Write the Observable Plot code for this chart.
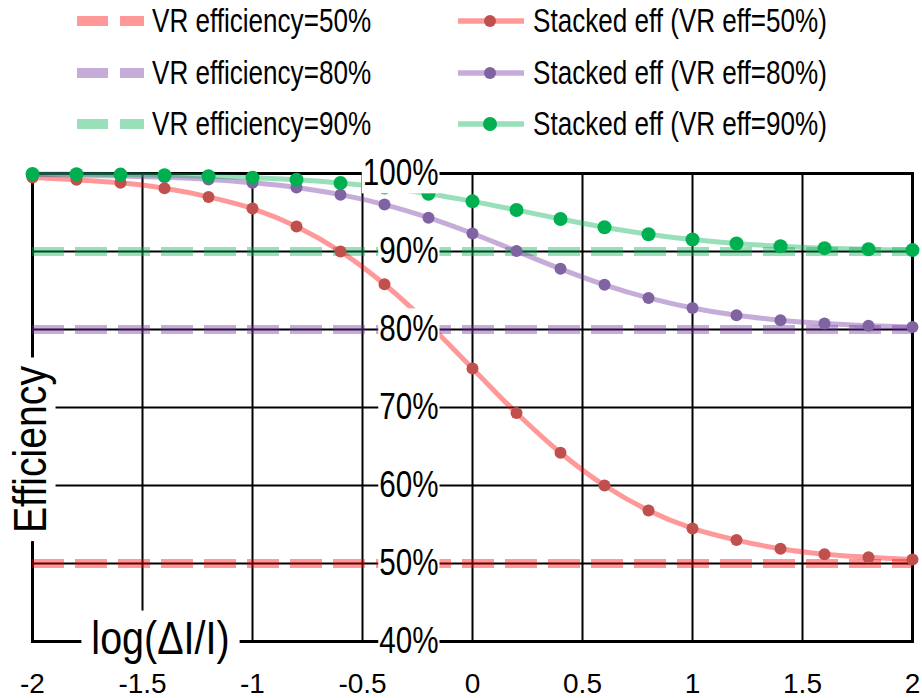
<!DOCTYPE html>
<html><head><meta charset="utf-8">
<script src="https://cdn.jsdelivr.net/npm/d3@7"></script>
<script src="https://cdn.jsdelivr.net/npm/@observablehq/plot@0.6"></script>
<style>
html,body{margin:0;padding:0;background:#fff;overflow:hidden;width:922px;height:698px;}
#legend{position:relative;width:922px;height:150px;font-family:'Liberation Sans',Arial,sans-serif;font-size:33px;color:#000;}
.item{position:absolute;height:52px;display:flex;align-items:center;white-space:nowrap;}
.item svg{display:block;flex:none;}
.item span{display:inline-block;transform:scaleX(0.79);transform-origin:0 50%;}
#chart svg{display:block;}
</style></head><body>
<div id="legend"></div>
<div id="chart"></div>
<script>
// ---- data ----
const xValues = [-2, -1.8, -1.6, -1.4, -1.2, -1, -0.8, -0.6, -0.4, -0.2, 0, 0.2, 0.4, 0.6, 0.8, 1, 1.2, 1.4, 1.6, 1.8, 2];
const stacked50 = [99.5, 99.2, 98.8, 98.1, 97.0, 95.5, 93.2, 90.0, 85.8, 80.7, 75.0, 69.3, 64.2, 60.0, 56.8, 54.5, 53.0, 51.9, 51.2, 50.8, 50.5];
const stacked80 = [99.88, 99.80, 99.69, 99.51, 99.24, 98.82, 98.20, 97.29, 96.02, 94.34, 92.31, 90.05, 87.78, 85.73, 84.05, 82.76, 81.82, 81.20, 80.77, 80.49, 80.31];
const stacked90 = [99.94, 99.91, 99.86, 99.78, 99.66, 99.47, 99.19, 98.78, 98.19, 97.40, 96.43, 95.32, 94.17, 93.11, 92.22, 91.53, 91.02, 90.67, 90.43, 90.28, 90.18];
const vrLevels = [50, 80, 90];
const vrNames = ["VR efficiency=50%", "VR efficiency=80%", "VR efficiency=90%"];
const stackedNames = ["Stacked eff (VR eff=50%)", "Stacked eff (VR eff=80%)", "Stacked eff (VR eff=90%)"];
const xTicks = [-2, -1.5, -1, -0.5, 0, 0.5, 1, 1.5, 2];
const xTickLabels = ["-2", "-1.5", "-1", "-0.5", "0", "0.5", "1", "1.5", "2"];
const yTicks = [40, 50, 60, 70, 80, 90, 100];
const yTickLabels = ["40%", "50%", "60%", "70%", "80%", "90%", "100%"];
const xTitle = "log(ΔI/I)";
const yTitle = "Efficiency";

// ---- styles ----
const lineColors = ["#FF0000", "#7030A0", "#00B050"];
const dotColors = ["#C0504D", "#8064A2", "#00B050"];
const dotRadii = [6, 6, 7];
const fontFam = "'Liberation Sans',Arial,sans-serif";

const stackedSeries = [stacked50, stacked80, stacked90];
const tables = stackedSeries.map((vals, s) => xValues.map((x, i) => ({x, y: vals[i], series: stackedNames[s]})));

// ---- legend ----
const legend = document.getElementById("legend");
const rowCenters = [21, 72.5, 124];
vrNames.forEach((name, i) => {
  const div = document.createElement("div");
  div.className = "item";
  div.style.left = "77px";
  div.style.top = (rowCenters[i] - 26) + "px";
  div.innerHTML = `<svg width="67" height="14" style="margin-right:8px"><line x1="0" x2="67" y1="7" y2="7" stroke="${lineColors[i]}" stroke-opacity="0.4" stroke-width="10" stroke-dasharray="31,12"/></svg><span>${name}</span>`;
  legend.appendChild(div);
});
stackedNames.forEach((name, i) => {
  const div = document.createElement("div");
  div.className = "item";
  div.style.left = "458px";
  div.style.top = (rowCenters[i] - 26) + "px";
  div.innerHTML = `<svg width="66" height="16" style="margin-right:9px"><line x1="0" x2="66" y1="8" y2="8" stroke="${lineColors[i]}" stroke-opacity="0.4" stroke-width="5.5"/><circle cx="32" cy="8" r="${dotRadii[i]}" fill="${dotColors[i]}"/></svg><span>${name}</span>`;
  legend.appendChild(div);
});

// ---- chart ----
const marks = [
  Plot.ruleX(xTicks, {stroke: "black", strokeWidth: 2}),
  Plot.ruleY(yTicks, {stroke: "black", strokeWidth: 2}),
  Plot.frame({stroke: "black", strokeWidth: 3}),
  ...vrLevels.map((v, i) => Plot.ruleY([v], {stroke: lineColors[i], strokeOpacity: 0.4, strokeWidth: 9, strokeDasharray: "32,11"}))
];
tables.forEach((t, s) => {
  marks.push(Plot.line(t, {x: "x", y: "y", stroke: lineColors[s], strokeOpacity: 0.4, strokeWidth: 5, curve: "catmull-rom"}));
  marks.push(Plot.dot(t, {x: "x", y: "y", r: dotRadii[s], fill: dotColors[s], stroke: "none"}));
});
marks.push(
  Plot.text(yTicks, {x: 0, y: d => d, text: (d, i) => yTickLabels[i], textAnchor: "end", lineAnchor: "middle", dx: -34, fontSize: 37, fontFamily: fontFam, fill: "black"}),
  Plot.text(xTicks, {x: d => d, text: (d, i) => xTickLabels[i], frameAnchor: "bottom", textAnchor: "middle", lineAnchor: "top", dy: 32, fontSize: 28, fontFamily: fontFam, fill: "black"}),
  Plot.text([yTitle], {text: d => d, frameAnchor: "left", rotate: -90, textAnchor: "middle", lineAnchor: "middle", dx: -2, dy: 42, fontSize: 47, fontFamily: fontFam, fill: "black"}),
  Plot.text([xTitle], {text: d => d, frameAnchor: "bottom-left", textAnchor: "middle", lineAnchor: "middle", dx: 128, dy: -3, fontSize: 47, fontFamily: fontFam, fill: "black"})
);

const svg = Plot.plot({
  width: 922,
  height: 548,
  marginTop: 23,
  marginBottom: 57,
  marginLeft: 32,
  marginRight: 10,
  x: {domain: [-2, 2], axis: null},
  y: {domain: [40, 100], axis: null},
  style: {fontFamily: fontFam, background: "white", overflow: "visible"},
  marks
});
document.getElementById("chart").appendChild(svg);

// horizontal condensing (textLength) + white boxes behind selected labels
const textGroups = svg.querySelectorAll('g[aria-label="text"]');
const cfg = [
  {sx: 0.80, pad: [1, 0], box: true},
  {sx: 1, pad: null, box: false},
  {sx: 0.835, pad: [8, 0], box: true},
  {sx: 0.84, pad: [10, 0], box: true}
];
const NS = "http://www.w3.org/2000/svg";
textGroups.forEach((g, gi) => {
  const c = cfg[gi];
  if (!c) return;
  g.querySelectorAll("text").forEach(t => {
    if (c.sx !== 1) {
      const len = t.getComputedTextLength();
      t.setAttribute("textLength", (len * c.sx).toFixed(2));
      t.setAttribute("lengthAdjust", "spacingAndGlyphs");
    }
    if (!c.box) return;
    const b = t.getBBox();
    const p = c.pad;
    const r = document.createElementNS(NS, "rect");
    r.setAttribute("x", b.x - p[0]);
    r.setAttribute("y", b.y - p[1]);
    r.setAttribute("width", b.width + 2 * p[0]);
    r.setAttribute("height", b.height + 2 * p[1]);
    r.setAttribute("fill", "white");
    const tr = t.getAttribute("transform");
    if (tr) r.setAttribute("transform", tr);
    t.parentNode.insertBefore(r, t);
  });
});
</script>
</body></html>
